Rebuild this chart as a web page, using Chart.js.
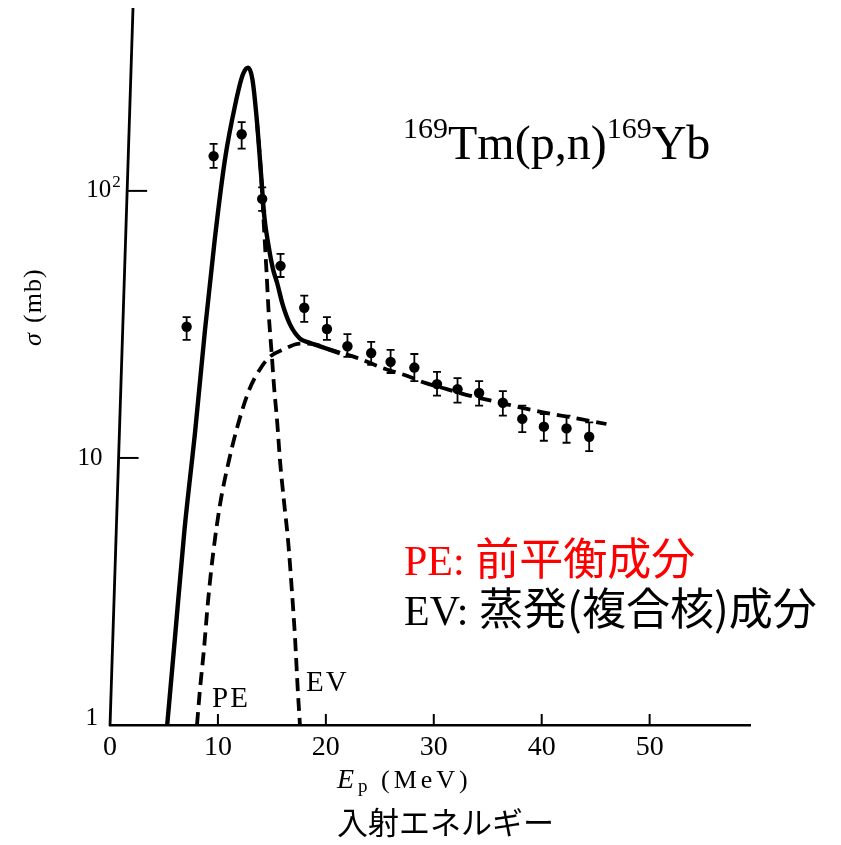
<!DOCTYPE html>
<html>
<head>
<meta charset="utf-8">
<script src="https://cdn.jsdelivr.net/npm/chart.js@4/dist/chart.umd.min.js"></script>
<style>
  html, body { margin: 0; padding: 0; background: #ffffff; }
  #wrap { position: relative; width: 841px; height: 845px; }
  canvas { display: block; }
</style>
</head>
<body>
<div id="wrap"><canvas id="c" width="841" height="845"></canvas></div>
<script>
// Measured 169Tm(p,n)169Yb excitation function: energy (MeV), cross section (mb), error limits
const energy  = [7.1, 9.6, 12.2, 14.1, 15.8, 18.0, 20.1, 22.0, 24.2, 26.0, 28.2, 30.3, 32.2, 34.2, 36.4, 38.2, 40.2, 42.3, 44.4];
const sigma   = [31.0, 135, 163, 93.3, 52.4, 36.5, 30.4, 26.2, 24.7, 22.9, 21.8, 18.9, 18.1, 17.5, 16.1, 14.0, 13.1, 12.9, 12.0];
const sigmaHi = [33.7, 150, 181, 103, 58.1, 40.5, 33.7, 29.1, 27.2, 25.4, 24.5, 21.0, 19.9, 19.4, 17.8, 15.7, 14.6, 14.4, 13.6];
const sigmaLo = [27.7, 122, 144, 84.1, 47.6, 32.3, 27.7, 23.9, 22.3, 20.8, 19.4, 17.1, 16.1, 15.7, 14.4, 12.5, 11.6, 11.4, 10.6];

// Calculated total cross section (solid)
const totalE     = [5.3, 6.0, 6.9, 7.9, 8.8, 9.7, 10.65, 11.6, 12.3, 12.8, 13.2, 13.6, 14.0, 14.3, 14.7, 15.1, 15.5, 16.0, 16.7, 17.6, 18.5, 19.9, 21.3];
const totalSigma = [1.0, 2.08, 5.37, 12.7, 30.1, 65.5, 131, 210, 272, 289, 261, 185, 115, 80, 62, 51, 45, 37.5, 31.5, 28.0, 27.0, 25.8, 24.7];

// Evaporation (compound nucleus) component, falling side
const evE     = [13.6, 14.0, 14.25, 14.5, 14.7, 15.0, 15.2, 15.5, 15.75, 16.1, 16.5, 16.85, 17.15, 17.4, 17.6];
const evSigma = [185, 115, 75, 50, 35, 24, 18.5, 13.5, 9.8, 7.0, 4.9, 3.2, 2.1, 1.35, 1.0];

// Pre-equilibrium component
const peE     = [8.06, 8.33, 8.7, 9.07, 9.54, 10.19, 10.93, 11.85, 12.9, 13.9, 14.8, 16.0, 17.6, 19.0, 20.5, 22.9, 25.3, 27.5, 29.2, 31.2, 33.1, 35.0, 37.0, 39.5, 41.4, 43.5, 46.0];
const peSigma = [1.0, 1.35, 1.91, 2.87, 4.34, 6.67, 9.42, 13.3, 18.0, 21.5, 23.9, 25.4, 26.8, 26.6, 25.3, 23.7, 21.7, 20.3, 19.1, 18.1, 17.2, 16.5, 15.8, 15.0, 14.5, 14.0, 13.4];

// Axis ticks
const xTicks = [0, 10, 20, 30, 40, 50];
const yTicks = [1, 10, 100];
const yTickBase = ['1', '10', '10'];
const yTickExp  = ['', '', '2'];

const pairs = (xs, ys) => xs.map((x, i) => ({ x: x, y: ys[i] }));

const SERIF = '"Liberation Serif", "Times New Roman", serif';
const CJK = '"Noto Sans CJK JP", "Noto Sans CJK SC", sans-serif';

// left axis of the original figure leans slightly to the right going up
const AXIS_LEAN = 23 / 717;

const decorations = {
  id: 'decorations',
  beforeDatasetsDraw(chart) {
    const ctx = chart.ctx;
    const xs = chart.scales.x, ys = chart.scales.y;
    ctx.save();
    ctx.strokeStyle = '#000';
    ctx.lineWidth = 1.8;
    // error bars
    energy.forEach((e, i) => {
      const px = xs.getPixelForValue(e);
      const top = ys.getPixelForValue(sigmaHi[i]);
      const bot = ys.getPixelForValue(sigmaLo[i]);
      ctx.beginPath();
      ctx.moveTo(px, top); ctx.lineTo(px, bot);
      ctx.moveTo(px - 4, top); ctx.lineTo(px + 4, top);
      ctx.moveTo(px - 4, bot); ctx.lineTo(px + 4, bot);
      ctx.stroke();
    });
    ctx.restore();
  },
  afterDraw(chart) {
    const ctx = chart.ctx;
    const xs = chart.scales.x, ys = chart.scales.y;
    const area = chart.chartArea;
    const axisX = (py) => area.left + (area.bottom - py) * AXIS_LEAN;
    ctx.save();
    ctx.strokeStyle = '#000';
    ctx.fillStyle = '#000';
    // left axis line
    ctx.lineWidth = 2.8;
    ctx.beginPath();
    ctx.moveTo(area.left, area.bottom + 1);
    ctx.lineTo(axisX(area.top), area.top);
    ctx.stroke();
    // left axis ticks and labels
    ctx.lineWidth = 2;
    ctx.textBaseline = 'middle';
    yTicks.forEach((v, i) => {
      const py = ys.getPixelForValue(v);
      const ax = axisX(py);
      if (v > 1) {
        ctx.beginPath();
        ctx.moveTo(ax, py); ctx.lineTo(ax + 20, py);
        ctx.stroke();
      }
      const right = v === 1 ? ax - 12 : ax - 16;
      ctx.font = '25px ' + SERIF;
      ctx.textAlign = 'right';
      ctx.fillText(yTickBase[i], right, v === 1 ? py - 7 : py);
      if (yTickExp[i]) {
        ctx.font = '17px ' + SERIF;
        ctx.textAlign = 'left';
        ctx.fillText(yTickExp[i], right + 1, py - 8);
      }
    });
    // bottom axis ticks (pointing inward)
    xTicks.forEach((v) => {
      if (v === 0) return;
      const px = xs.getPixelForValue(v);
      ctx.beginPath();
      ctx.moveTo(px, area.bottom); ctx.lineTo(px, area.bottom - 11);
      ctx.stroke();
    });

    // y axis title
    ctx.save();
    ctx.translate(41, 346);
    ctx.rotate(-Math.PI / 2);
    ctx.textAlign = 'left';
    ctx.textBaseline = 'alphabetic';
    ctx.font = 'italic 26px ' + SERIF;
    ctx.fillText('\u03C3', 0, 0);
    ctx.font = '26px ' + SERIF;
    ctx.letterSpacing = '1px';
    ctx.fillText('(mb)', 23, 0);
    ctx.letterSpacing = '0px';
    ctx.restore();

    // x axis title
    ctx.textAlign = 'left';
    ctx.textBaseline = 'alphabetic';
    ctx.font = 'italic 28px ' + SERIF;
    ctx.fillText('E', 337, 788);
    ctx.font = '19px ' + SERIF;
    ctx.fillText('p', 358, 792);
    ctx.font = '26px ' + SERIF;
    ctx.letterSpacing = '4px';
    ctx.fillText('(MeV)', 381, 788);
    ctx.letterSpacing = '0px';
    ctx.font = '31px ' + CJK;
    ctx.fillText('入射エネルギー', 337, 834);

    // curve labels
    ctx.font = '29px ' + SERIF;
    ctx.letterSpacing = '2px';
    ctx.fillText('PE', 212, 707);
    ctx.fillText('EV', 306, 691);
    ctx.letterSpacing = '0px';

    // reaction label
    let x = 403;
    ctx.font = '30px ' + SERIF;
    ctx.fillText('169', x, 138); x += ctx.measureText('169').width;
    ctx.font = '48px ' + SERIF;
    ctx.fillText('Tm(p,n)', x, 159); x += ctx.measureText('Tm(p,n)').width;
    ctx.font = '30px ' + SERIF;
    ctx.fillText('169', x, 138); x += ctx.measureText('169').width;
    ctx.font = '48px ' + SERIF;
    ctx.fillText('Yb', x, 159);

    // component legend
    ctx.fillStyle = '#ff0000';
    x = 404;
    ctx.font = '42px ' + SERIF;
    ctx.fillText('PE: ', x, 575); x += ctx.measureText('PE: ').width;
    ctx.font = '44px ' + CJK;
    ctx.fillText('前平衡成分', x, 575);
    ctx.fillStyle = '#000';
    x = 404;
    ctx.font = '42px ' + SERIF;
    ctx.fillText('EV: ', x, 625); x += ctx.measureText('EV: ').width;
    ctx.font = '44px ' + CJK;
    ctx.fillText('蒸発(複合核)成分', x, 625);
    ctx.restore();
  }
};

new Chart(document.getElementById('c'), {
  type: 'line',
  data: {
    datasets: [
      {
        label: 'data',
        data: pairs(energy, sigma),
        showLine: false,
        pointRadius: 5.2,
        pointBackgroundColor: '#000',
        pointBorderColor: '#000',
        pointBorderWidth: 0
      },
      {
        label: 'total',
        data: pairs(totalE, totalSigma),
        borderColor: '#000',
        borderWidth: 4.4,
        pointRadius: 0,
        cubicInterpolationMode: 'monotone',
        fill: false
      },
      {
        label: 'EV',
        data: pairs(evE, evSigma),
        borderColor: '#000',
        borderWidth: 3.8,
        borderDash: [13, 7],
        pointRadius: 0,
        cubicInterpolationMode: 'monotone',
        fill: false
      },
      {
        label: 'PE',
        data: pairs(peE, peSigma),
        borderColor: '#000',
        borderWidth: 3.8,
        borderDash: [13, 7],
        pointRadius: 0,
        cubicInterpolationMode: 'monotone',
        fill: false
      }
    ]
  },
  options: {
    responsive: false,
    animation: false,
    events: [],
    layout: { padding: { top: 8, right: 91, left: 0, bottom: 0 } },
    plugins: { legend: { display: false }, tooltip: { enabled: false } },
    scales: {
      x: {
        type: 'linear',
        min: 0,
        max: 59.3,
        afterFit: (s) => { s.height = 120; },
        grid: { display: false, drawTicks: false },
        border: { display: true, color: '#000', width: 2.4 },
        ticks: {
          stepSize: 10,
          includeBounds: false,
          padding: 6,
          color: '#000',
          font: { family: SERIF, size: 28 },
          maxRotation: 0,
          callback: (v) => (xTicks.includes(v) ? String(v) : '')
        }
      },
      y: {
        type: 'logarithmic',
        min: 1,
        max: 484,
        afterFit: (s) => { s.width = 110; },
        grid: { display: false, drawTicks: false },
        border: { display: false },
        ticks: { display: false }
      }
    }
  },
  plugins: [decorations]
});
</script>
</body>
</html>
